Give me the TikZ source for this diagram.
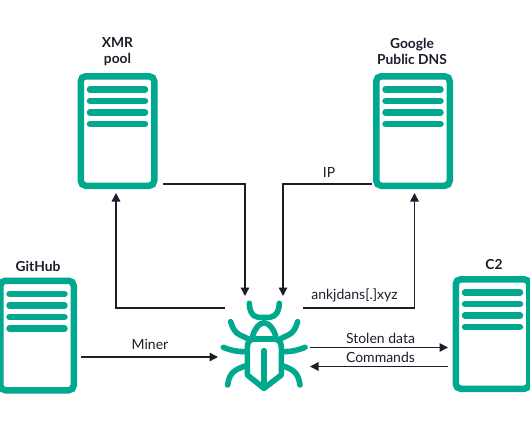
\documentclass[tikz,border=0pt]{standalone}
\usepackage{fontspec}
\setmainfont{Lato}
\usetikzlibrary{arrows.meta}
\definecolor{kgreen}{HTML}{00A88E}
\definecolor{kdark}{HTML}{1D1D2B}
\tikzset{
  server/.style={draw=kgreen,line width=6.5pt,rounded corners=5pt,minimum width=73.5pt,minimum height=109.5pt,inner sep=0pt,outer sep=0pt,fill=white},
  slot/.style={draw=kgreen,line width=6.5pt,line cap=round},
  bugline/.style={draw=kgreen,line width=5.6pt,line cap=round,line join=round},
  link/.style={draw=kdark,line width=1.5pt,-{Triangle[length=8.5pt,width=8.5pt]}},
  title/.style={font=\fontsize{13.8}{16}\selectfont\bfseries,text=kdark,inner sep=0pt,align=center},
  lbl/.style={font=\fontsize{14}{16}\selectfont,text=kdark,inner sep=0pt}
}
\newcommand{\slots}[1]{%
  \draw[slot] ([shift={(-27.5,-41.5)}]#1.center) -- ([shift={(27.5,-41.5)}]#1.center);
  \draw[slot] ([shift={(-27.5,-30)}]#1.center) -- ([shift={(27.5,-30)}]#1.center);
  \draw[slot] ([shift={(-27.5,-18.5)}]#1.center) -- ([shift={(27.5,-18.5)}]#1.center);
  \draw[slot] ([shift={(-27.5,-7)}]#1.center) -- ([shift={(27.5,-7)}]#1.center);
}
\begin{document}
\begin{tikzpicture}[x=1pt,y=-1pt]
\useasboundingbox (0,0) rectangle (530,442);
\node[server] (xmr) at (117.5,131) {};
\node[server] (dns) at (413,131) {};
\node[server] (git) at (37,335.5) {};
\node[server] (c2) at (492.5,334) {};
\slots{xmr}\slots{dns}\slots{git}\slots{c2}
\node[title] (xmrt) at (117.5,52) {XMR\\pool};
\node[title] (dnst) at (412,51.5) {Google\\Public DNS};
\node[title] (gitt) at (38,266) {GitHub};
\node[title] (c2t) at (494,265) {C2};
% bug
\begin{scope}[shift={(190,260)},x=0.3333pt,y=-0.3333pt]
\draw[bugline] (178,130) .. controls (178,150) and (185,170) .. (205,172) -- (240,172) .. controls (260,170) and (268,150) .. (268,130);
\draw[bugline] (188,228) .. controls (195,205) and (207,190) .. (222,188) .. controls (238,190) and (250,205) .. (257,228);
\draw[bugline] (172,345) -- (172,262) .. controls (172,245) and (180,237) .. (195,237) -- (250,237) .. controls (265,237) and (274,245) .. (274,262) -- (274,345) -- (222,385) -- cycle;
\draw[bugline] (222,272) -- (222,375);
\draw[bugline] (122,185) .. controls (128,205) and (135,218) .. (150,225) -- (178,238);
\draw[bugline] (323,185) .. controls (317,205) and (310,218) .. (295,225) -- (268,238);
\draw[bugline] (100,262) .. controls (125,272) and (140,275) .. (170,275);
\draw[bugline] (345,262) .. controls (320,272) and (305,275) .. (276,275);
\draw[bugline] (113,375) .. controls (118,345) and (125,330) .. (170,317);
\draw[bugline] (330,375) .. controls (325,345) and (318,330) .. (276,317);
\end{scope}
\coordinate (a1) at (245,296);
\coordinate (a2) at (283,296);
\coordinate (a3) at (225,308);
\coordinate (a4) at (303,308);
\coordinate (a5) at (218,357);
\coordinate (a6) at (310,347.5);
\coordinate (a7) at (310,366.5);
\draw[link] (163,184) -| (a1);
\draw[link] (372,184) -| (a2);
\draw[link] (a3) -| (116,193);
\draw[link] (a4) -| (414.5,193);
\draw[link] (81,357) -- (a5);
\draw[link] (a6) -- (448,347.5);
\draw[link] (448,366.5) -- (a7);
\node[lbl] (ip) at (329,172) {IP};
\node[lbl] (ank) at (354.5,295) {ankjdans[.]xyz};
\node[lbl] (miner) at (150,344) {Miner};
\node[lbl] (stolen) at (380.5,338) {Stolen data};
\node[lbl] (cmd) at (380.5,357) {Commands};
\end{tikzpicture}
\end{document}
